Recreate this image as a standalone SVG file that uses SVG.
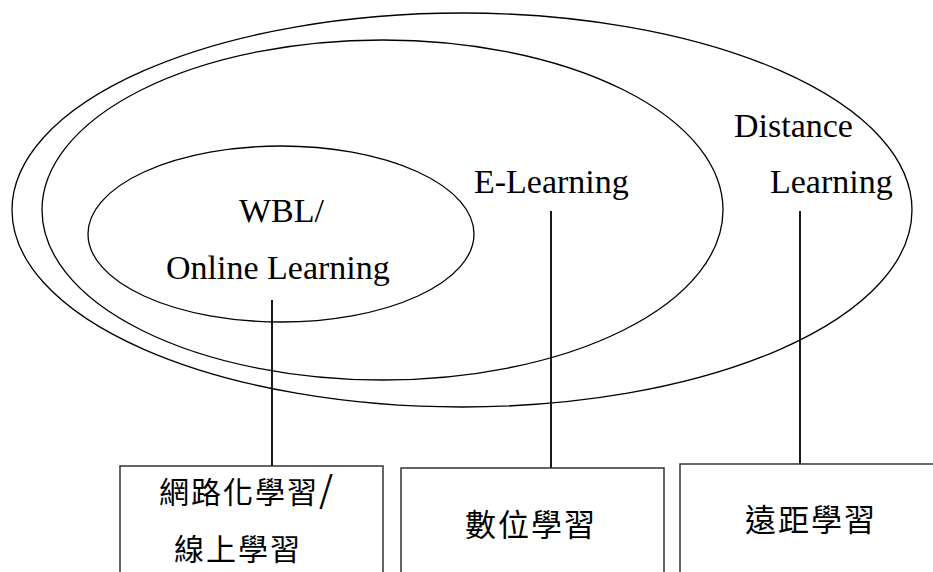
<svg xmlns="http://www.w3.org/2000/svg" width="933" height="572" viewBox="0 0 933 572">
<style>
.shape{fill:none;stroke:#000;stroke-width:1.3}
.box{fill:#fff;stroke:#333;stroke-width:1.5}
.conn{stroke:#000;stroke-width:1.8}
.zh{font-size:30px;fill:#000;letter-spacing:2px}
</style>
<rect width="933" height="572" fill="#fff"/>
<g id="distance-learning">
<ellipse class="shape" cx="462" cy="210" rx="450" ry="197"/>
<text font-family="Liberation Serif, DejaVu Serif, serif" font-size="34" x="734" y="137">Distance</text>
<text font-family="Liberation Serif, DejaVu Serif, serif" font-size="34" x="770" y="193">Learning</text>
</g>
<g id="e-learning">
<ellipse class="shape" cx="382.5" cy="210" rx="340.5" ry="170"/>
<text font-family="Liberation Serif, DejaVu Serif, serif" font-size="34" x="474" y="193">E-Learning</text>
</g>
<g id="wbl">
<ellipse class="shape" cx="281" cy="234" rx="193" ry="88"/>
<text font-family="Liberation Serif, DejaVu Serif, serif" font-size="34" x="239" y="222">WBL/</text>
<text font-family="Liberation Serif, DejaVu Serif, serif" font-size="34" x="166" y="279">Online Learning</text>
</g>
<g id="connectors">
<line class="conn" x1="272" y1="300" x2="272" y2="466"/>
<line class="conn" x1="551" y1="211" x2="551" y2="468"/>
<line class="conn" x1="800" y1="211" x2="800" y2="464"/>
</g>
<g id="box-wbl">
<rect class="box" x="120" y="466" width="263" height="120"/>
<text class="zh" font-family="Noto Sans CJK TC, sans-serif" x="159" y="503">網路化學習<tspan style="font-size:36px;letter-spacing:0">/</tspan></text>
<text class="zh" font-family="Noto Sans CJK TC, sans-serif" x="174" y="560">線上學習</text>
</g>
<g id="box-elearning">
<rect class="box" x="401" y="468" width="263" height="120"/>
<text class="zh" font-family="Noto Sans CJK TC, sans-serif" x="465" y="536" style="font-size:31px">數位學習</text>
</g>
<g id="box-distance">
<rect class="box" x="680" y="464" width="280" height="120"/>
<text class="zh" font-family="Noto Sans CJK TC, sans-serif" x="745" y="531" style="font-size:31px">遠距學習</text>
</g>
</svg>
